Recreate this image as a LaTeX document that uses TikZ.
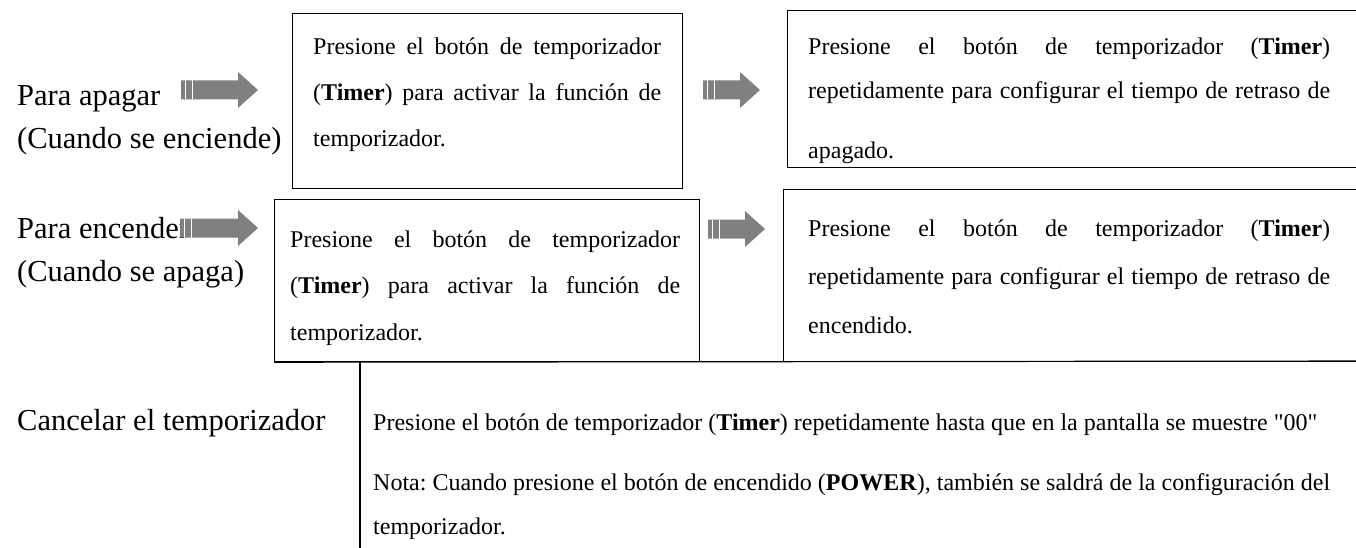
\documentclass[tikz,border=0pt]{standalone}
\usepackage{fontspec}
\setmainfont{Liberation Serif}[Ligatures=TeXOff]
\frenchspacing

\begin{document}
\begin{tikzpicture}[
  x=1pt, y=-1pt,
  box/.style={draw, line width=1.2pt, anchor=north west, inner sep=0pt},
  txt/.style={anchor=base west, inner sep=0pt, align=justify, font=\fontsize{24}{#1}\selectfont},
  txt/.default=46,
  lbl/.style={anchor=base west, inner sep=0pt, font=\fontsize{30.5}{36}\selectfont},
  rule/.style={line width=1.2pt},
  stripe/.style={white, line width=0.8pt},
]
  \useasboundingbox (0,0) rectangle (1356,548);
  \fill[white] (0,0) rectangle (1356,548);

  % left column
  \node[lbl] (off)     at (17,106) {Para apagar};
  \node[lbl] (offwhen) at (17,149) {(Cuando se enciende)};
  \node[lbl] (on)      at (17,238) {Para encender};
  \node[lbl] (onwhen)  at (17,281) {(Cuando se apaga)};
  \node[lbl] (cancel)  at (17,430) {Cancelar el temporizador};

  % boxes
  \node[box, minimum width=390pt, minimum height=175pt] (offa) at (292,13)  {};
  \node[box, minimum width=620pt, minimum height=157pt] (offb) at (787,10)  {};
  \node[box, minimum width=425pt, minimum height=162pt] (ona)  at (274,199) {};
  \node[box, minimum width=620pt, minimum height=172pt] (onb)  at (783,189) {};

  \node[txt, text width=348pt] (offatxt) at (313,55)
    {Presione el botón de temporizador\linebreak (\textbf{Timer}) para activar la función de\linebreak temporizador.};
  \node[txt=44, text width=522pt] (offbtxt) at (808,55)
    {Presione el botón de temporizador (\textbf{Timer})\linebreak repetidamente para configurar el tiempo de retraso de\vspace{16pt}\linebreak apagado.};
  \node[txt=46.5, text width=390pt] (onatxt) at (290,247)
    {Presione el botón de temporizador\linebreak (\textbf{Timer}) para activar la función de\linebreak temporizador.};
  \node[txt=48.5, text width=522pt] (onbtxt) at (808,236)
    {Presione el botón de temporizador (\textbf{Timer})\linebreak repetidamente para configurar el tiempo de retraso de\linebreak encendido.};

  % cancel row
  \coordinate (rowend) at (1400,361);
  \coordinate (rowsep) at (360,361);
  \coordinate (rowbot) at (360,560);
  \draw[rule] (ona.south west) -- (rowend);
  \draw[rule] (rowsep) -- (rowbot);
  \node[txt=44, text width=957pt] (canceltxt) at (373,430)
    {Presione el botón de temporizador (\textbf{Timer}) repetidamente hasta que en la pantalla se muestre "00"\\[16pt]
     Nota: Cuando presione el botón de encendido (\textbf{POWER}), también se saldrá de la configuración del\linebreak temporizador.};

  % block arrows
  \foreach \ax/\ay/\al in {181/90/77, 703/90/57, 180/228/78, 708/229/57} {
    \fill[gray] (\ax,{\ay-9.5}) -- ({\ax+\al-20},{\ay-9.5}) -- ({\ax+\al-20},{\ay-18})
      -- ({\ax+\al},\ay) -- ({\ax+\al-20},{\ay+18}) -- ({\ax+\al-20},{\ay+9.5})
      -- (\ax,{\ay+9.5}) -- cycle;
    \draw[stripe] ({\ax+4},{\ay-9.5}) -- ({\ax+4},{\ay+9.5});
    \draw[stripe] ({\ax+11},{\ay-9.5}) -- ({\ax+11},{\ay+9.5});
  }
\end{tikzpicture}
\end{document}
